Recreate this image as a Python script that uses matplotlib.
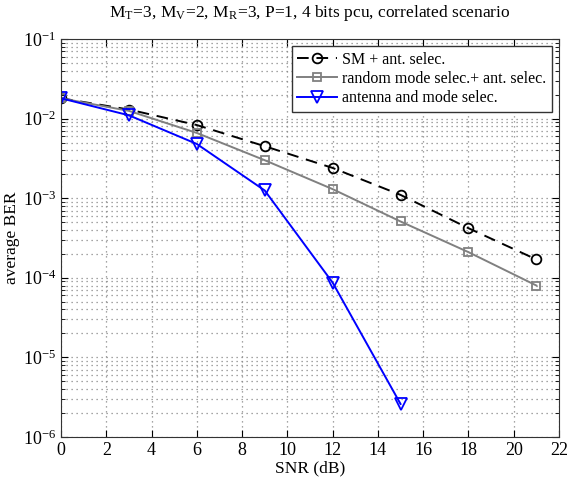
import matplotlib
matplotlib.use("Agg")
import matplotlib.pyplot as plt
from matplotlib.ticker import LogLocator, MultipleLocator

plt.rcParams['font.family'] = ['Liberation Serif', 'DejaVu Serif']
plt.rcParams['mathtext.fontset'] = 'stix'

snr = [0, 3, 6, 9, 12, 15, 18, 21]
ber_sm = [1.8e-2, 1.3e-2, 8.3e-3, 4.5e-3, 2.4e-3, 1.1e-3, 4.2e-4, 1.7e-4]
ber_random = [1.8e-2, 1.25e-2, 6.6e-3, 3.0e-3, 1.3e-3, 5.1e-4, 2.1e-4, 8.0e-5]
snr_ams = [0, 3, 6, 9, 12, 15]
ber_ams = [1.8e-2, 1.1e-2, 4.8e-3, 1.25e-3, 8.7e-5, 2.6e-6]

labels = ['SM + ant. selec.', 'random mode selec.+ ant. selec.', 'antenna and mode selec.']
title = r'M$_\mathregular{T}$=3, M$_\mathregular{V}$=2, M$_\mathregular{R}$=3, P=1, 4 bits pcu, correlated scenario'

fig = plt.figure(figsize=(5.74, 4.8), dpi=100)
ax = fig.add_axes([61/574, 1-437/480, (559-61)/574, (437-39)/480])

ax.semilogy(snr, ber_sm, 'k--', marker='o', markersize=7, markerfacecolor='none',
            markeredgewidth=1.3, linewidth=1.4, label=labels[0], dashes=(6, 4))
ax.semilogy(snr, ber_random, color='#808080', marker='s', markersize=6, markerfacecolor='none',
            markeredgewidth=1.3, linewidth=1.4, label=labels[1])
ax.semilogy(snr_ams, ber_ams, color='#0000ff', marker='v', markersize=8, markerfacecolor='none',
            markeredgewidth=1.3, linewidth=1.4, label=labels[2])

ax.set_xlim(0, 22)
ax.set_ylim(1e-6, 1e-1)
ax.xaxis.set_major_locator(MultipleLocator(2))
ax.yaxis.set_major_locator(LogLocator(base=10, numticks=10))
ax.yaxis.set_minor_locator(LogLocator(base=10, subs=range(2, 10), numticks=20))
grid_style = dict(linestyle=(0, (1, 3)), color='#888888', linewidth=0.9)
ax.grid(True, which='major', **grid_style)
ax.grid(True, which='minor', axis='y', **grid_style)
ax.tick_params(which='both', direction='in', top=True, right=True, labelsize=13)
ax.tick_params(which='major', length=5)
ax.tick_params(which='minor', length=3)
for s in ax.spines.values():
    s.set_color('#333333')

ax.set_xlabel('SNR (dB)', fontsize=12.5, labelpad=1)
ax.set_ylabel('average BER', fontsize=12.5, labelpad=2)
ax.set_title(title, fontsize=12.5, pad=16)

leg = ax.legend(loc='upper right', fontsize=11.5, fancybox=False, framealpha=1,
                edgecolor='#333333', handlelength=2.5, borderaxespad=0.45,
                labelspacing=0.2, borderpad=0.35, handletextpad=0.3)
leg.get_frame().set_linewidth(1.0)

fig.savefig('out.png', dpi=100, facecolor='white')
